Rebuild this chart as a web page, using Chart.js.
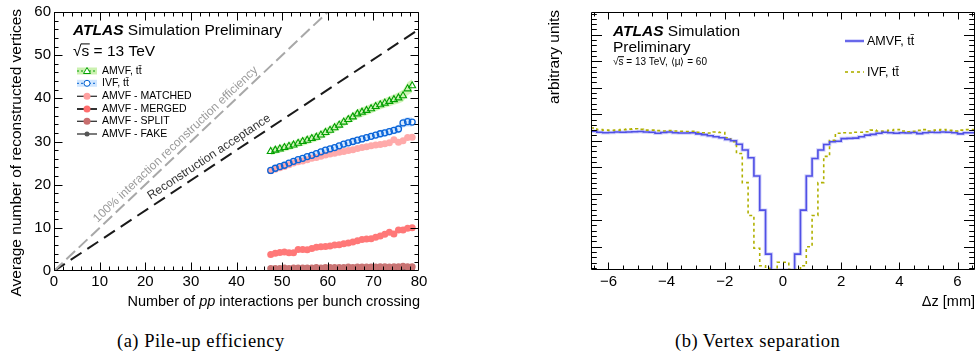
<!DOCTYPE html>
<html><head><meta charset="utf-8">
<script src="https://cdn.jsdelivr.net/npm/chart.js@4.4.1/dist/chart.umd.min.js"></script>
<style>
html,body{margin:0;padding:0;background:#fff}
body{width:977px;height:360px;position:relative;overflow:hidden}
#ca{position:absolute;left:0;top:0}
#cb{position:absolute;left:540px;top:0}
.cap{position:absolute;top:330px;line-height:22px;font-family:"Liberation Serif","DejaVu Serif",serif;font-size:18.5px;letter-spacing:0.5px;color:#000;white-space:nowrap}
</style></head>
<body>
<canvas id="ca" width="440" height="318"></canvas>
<canvas id="cb" width="437" height="318"></canvas>
<div class="cap" style="left:117px">(a) Pile-up efficiency</div>
<div class="cap" style="left:675px">(b) Vertex separation</div>
<script>
// ---------- Panel (a) data ----------
const mu = [47.5,48.5,49.5,50.5,51.5,52.5,53.5,54.5,55.5,56.5,57.5,58.5,59.5,60.5,61.5,62.5,63.5,64.5,65.5,66.5,67.5,68.5,69.5,70.5,71.5,72.5,73.5,74.5,75.5,76.5,77.5,78.5];
const amvfTT = [27.7,28.0,28.3,28.6,28.9,29.2,29.6,30.0,30.3,30.7,31.0,31.5,32.1,32.6,33.2,33.8,34.5,35.1,35.7,36.4,36.8,37.2,37.6,38.1,38.5,38.9,39.3,39.7,40.1,40.6,42.2,42.9];
const amvfTTErr = [0.9,0.9,0.9,0.9,0.9,0.9,0.9,1.0,1.0,1.0,1.0,1.0,1.0,1.0,1.0,1.0,1.0,1.0,1.0,1.1,1.1,1.1,1.1,1.1,1.1,1.1,1.2,1.2,1.3,1.4,1.5,1.5];
const ivfTT = [23.3,23.8,24.2,24.5,25.0,25.4,25.8,26.1,26.5,26.8,27.2,27.6,28.0,28.3,28.6,29.0,29.4,29.7,30.0,30.3,30.6,30.9,31.2,31.5,31.8,32.0,32.3,32.6,32.9,34.3,34.6,34.5];
const ivfTTErr = [0.6,0.6,0.6,0.6,0.6,0.6,0.6,0.6,0.7,0.7,0.7,0.7,0.7,0.7,0.7,0.7,0.7,0.7,0.8,0.8,0.8,0.8,0.8,0.8,0.9,0.9,0.9,0.9,1.0,1.1,1.1,1.1];
const matched = [23.2,23.6,23.9,24.2,24.6,25.0,25.3,25.5,25.8,26.1,26.3,26.6,26.9,27.1,27.3,27.5,27.7,27.9,28.1,28.4,28.6,28.8,29.0,29.2,29.3,29.5,29.7,30.4,29.8,30.2,30.9,31.0];
const merged = [3.8,4.1,4.3,4.4,4.2,4.2,5.0,5.0,4.9,5.2,5.5,5.6,5.7,5.8,6.0,6.1,6.3,6.5,6.7,7.0,7.3,7.4,7.5,7.8,8.1,8.5,9.0,8.6,9.5,9.5,9.9,10.0];
const split = [0.6,0.6,0.6,0.7,0.6,0.7,0.7,0.7,0.7,0.7,0.8,0.7,0.8,0.8,0.8,0.8,0.8,0.9,0.8,0.9,0.9,0.9,0.9,0.9,1.0,1.0,0.9,1.0,1.0,1.1,1.0,1.0];
const fake = [0.3,0.3,0.3,0.3,0.3,0.3,0.3,0.3,0.3,0.3,0.3,0.3,0.3,0.3,0.3,0.3,0.3,0.3,0.3,0.3,0.3,0.3,0.3,0.3,0.3,0.3,0.3,0.3,0.3,0.3,0.3,0.3];
const effLineX = [0,60], effLineY = [0,60];
const accLineX = [0,80], accLineY = [0,56];
const xTicksA = [0,10,20,30,40,50,60,70,80];
const yTicksA = [0,10,20,30,40,50,60];

// ---------- Panel (b) data ----------
const dzEdges = Array.from({length:67},(_,i)=>+(-6.6+0.2*i).toFixed(1));
const amvfDz = [5.24,5.20,5.18,5.19,5.21,5.20,5.21,5.22,5.23,5.21,
 5.20,5.16,5.19,5.21,5.18,5.17,5.17,5.18,5.14,5.11,
 5.07,5.03,4.99,4.93,4.88,4.75,4.53,4.24,3.55,2.26,
 0.60,0,0,0,0,0.60,2.26,3.55,4.21,4.53,
 4.74,4.84,4.86,4.96,4.97,4.98,5.03,5.09,5.12,5.16,
 5.20,5.18,5.16,5.18,5.17,5.19,5.15,5.18,5.20,5.19,
 5.21,5.20,5.18,5.14,5.18,5.18];
const ivfDz = [5.36,5.30,5.28,5.27,5.28,5.30,5.32,5.33,5.31,5.28,
 5.28,5.26,5.25,5.26,5.25,5.24,5.23,5.24,5.20,5.18,
 5.17,5.21,5.19,4.99,4.84,4.40,3.30,2.06,0.82,0.16,
 0.06,0,0.29,0.29,0.02,0.02,0.16,0.88,2.06,3.30,
 4.29,4.90,5.16,5.18,5.17,5.20,5.20,5.22,5.28,5.25,
 5.24,5.27,5.30,5.25,5.22,5.24,5.27,5.30,5.25,5.28,
 5.30,5.27,5.25,5.28,5.30,5.30];
const xTicksB = [-6,-4,-2,0,2,4,6];
const yTicksB = [0.88,1.88,2.88,3.88,4.88,5.88,6.88,7.88,8.88];

// ---------- helpers ----------
const SANS = '"Liberation Sans", Arial, sans-serif';
const pts = (xs, ys) => xs.map((x,i)=>({x, y: ys[i]}));
const band = (ys, es, s) => mu.map((x,i)=>({x, y: ys[i] + s*es[i]}));
const histPts = (vals) => { const p = vals.map((v,i)=>({x: dzEdges[i], y: v})); p.push({x: dzEdges[dzEdges.length-1], y: vals[vals.length-1]}); return p; };
const range = (a,b,s) => { const r=[]; for(let v=a; v<=b+1e-9; v+=s) r.push(+v.toFixed(3)); return r; };
const fmtMinus = v => v < 0 ? '\u2212' + Math.abs(v) : String(v);

function frameTicks(chart, o){
  const {ctx, chartArea:a, scales:{x,y}} = chart;
  ctx.save();
  ctx.strokeStyle = '#000'; ctx.lineWidth = 1;
  const L = Math.round(a.left)+0.5, R = Math.round(a.right)-0.5, T = Math.round(a.top)+0.5, B = Math.round(a.bottom)-0.5;
  ctx.beginPath();
  ctx.rect(L, T, R-L, B-T);
  const xt = (vals, len) => vals.forEach(v=>{const p=Math.round(x.getPixelForValue(v))+0.5; if(p<L||p>R) return; ctx.moveTo(p,B); ctx.lineTo(p,B-len); ctx.moveTo(p,T); ctx.lineTo(p,T+len);});
  const yt = (vals, len) => vals.forEach(v=>{const p=Math.round(y.getPixelForValue(v))+0.5; if(p<T||p>B) return; ctx.moveTo(L,p); ctx.lineTo(L+len,p); ctx.moveTo(R,p); ctx.lineTo(R-len,p);});
  xt(o.xMajor, o.xL); xt(o.xMinor, o.xl); yt(o.yMajor, o.yL); yt(o.yMinor, o.yl);
  ctx.stroke();
  ctx.restore();
}
function txt(ctx, s, x, y, size, opts={}){
  ctx.font = (opts.style||'') + ' ' + size + 'px ' + SANS;
  ctx.fillStyle = opts.color || '#000';
  ctx.textAlign = opts.align || 'left';
  ctx.textBaseline = opts.base || 'alphabetic';
  ctx.fillText(s, x, y);
  return ctx.measureText(s).width;
}
function sqrtS(ctx, x, y, size, rest){
  let w = txt(ctx, '\u221A', x, y, size);
  const ws = txt(ctx, 's', x + w, y, size);
  ctx.save(); ctx.strokeStyle='#000'; ctx.lineWidth=1;
  ctx.beginPath(); ctx.moveTo(x + w - 0.5, y - size*0.78); ctx.lineTo(x + w + ws + 0.5, y - size*0.78); ctx.stroke(); ctx.restore();
  txt(ctx, rest, x + w + ws, y, size);
}
function atlas(ctx, x, y, size, rest){
  const w = txt(ctx, 'ATLAS', x, y, size, {style:'italic bold'});
  txt(ctx, rest, x + w, y, size);
}
function alongText(chart, s, lx, ly, v, off, size, color){
  const {ctx, scales:{x,y}} = chart;
  const x0 = x.getPixelForValue(lx[0]), y0 = y.getPixelForValue(ly[0]);
  const x1 = x.getPixelForValue(lx[1]), y1 = y.getPixelForValue(ly[1]);
  const ang = Math.atan2(y1-y0, x1-x0);
  const t = (v - lx[0])/(lx[1]-lx[0]);
  const px = x0 + t*(x1-x0), py = y0 + t*(y1-y0);
  const nx = Math.sin(ang), ny = -Math.cos(ang);
  ctx.save();
  ctx.translate(px + nx*off, py + ny*off);
  ctx.rotate(ang);
  txt(ctx, s, 0, 0, size, {color});
  ctx.restore();
}

// ---------- Panel (a) ----------
const deco_a = {
  id:'decoA',
  afterDraw(chart){
    const ctx = chart.ctx;
    frameTicks(chart, {xMajor:xTicksA, xMinor:range(0,80,2), xL:8, xl:4, yMajor:yTicksA, yMinor:range(0,60,2), yL:8, yl:4});
    atlas(ctx, 73, 35, 15.5, ' Simulation Preliminary');
    sqrtS(ctx, 73, 56, 15.5, ' = 13 TeV');
    // legend
    const lx0 = 77, lx1 = 97, lc = 87, tx = 102;
    const rows = [71, 83.3, 96.3, 109, 121.3, 134];
    ctx.save();
    ctx.fillStyle = 'rgba(140,225,80,0.45)'; ctx.fillRect(lx0, rows[0]-3.5, lx1-lx0, 7);
    ctx.strokeStyle = '#00a000'; ctx.lineWidth = 1; ctx.setLineDash([2,2]);
    ctx.beginPath(); ctx.moveTo(lx0, rows[0]); ctx.lineTo(lx1, rows[0]); ctx.stroke();
    ctx.setLineDash([]);
    ctx.fillStyle='#fff'; ctx.beginPath(); ctx.moveTo(lc, rows[0]-3.5); ctx.lineTo(lc+3.5, rows[0]+2.5); ctx.lineTo(lc-3.5, rows[0]+2.5); ctx.closePath(); ctx.fill(); ctx.stroke();
    ctx.fillStyle = 'rgba(170,210,255,0.55)'; ctx.fillRect(lx0, rows[1]-3.5, lx1-lx0, 7);
    ctx.strokeStyle = '#0060d0'; ctx.setLineDash([2,2]);
    ctx.beginPath(); ctx.moveTo(lx0, rows[1]); ctx.lineTo(lx1, rows[1]); ctx.stroke();
    ctx.setLineDash([]);
    ctx.fillStyle='#fff'; ctx.beginPath(); ctx.arc(lc, rows[1], 3, 0, Math.PI*2); ctx.fill(); ctx.stroke();
    const dots = ['rgba(255,160,160,1)','rgba(255,110,110,1)','rgba(200,110,110,1)','#555'];
    for(let k=0;k<4;k++){
      const yy = rows[k+2];
      ctx.strokeStyle = '#333'; ctx.lineWidth = k===1 ? 2 : 1.3;
      ctx.beginPath(); ctx.moveTo(lx0, yy); ctx.lineTo(lx1, yy); ctx.stroke();
      ctx.fillStyle = dots[k]; ctx.beginPath(); ctx.arc(lc, yy, k===3 ? 2.5 : 3.5, 0, Math.PI*2); ctx.fill();
    }
    ctx.restore();
    const labels = ['AMVF, tt\u0304','IVF, tt\u0304','AMVF - MATCHED','AMVF - MERGED','AMVF - SPLIT','AMVF - FAKE'];
    labels.forEach((s,i)=>txt(ctx, s, tx, rows[i], 10.5, {base:'middle'}));
    alongText(chart, '100% interaction reconstruction efficiency', effLineX, effLineY, 10.3, 5, 12, '#9a9a9a');
    alongText(chart, 'Reconstruction acceptance', accLineX, accLineY, 21.9, 6, 12, '#333');
    ctx.save(); ctx.translate(17, 9); ctx.rotate(-Math.PI/2);
    txt(ctx, 'Average number of reconstructed vertices', 0, 0, 15.5, {align:'right', base:'middle'});
    ctx.restore();
    const parts = [['Number of ',''],['pp','italic'],[' interactions per bunch crossing','']];
    let widths = parts.map(p=>{ctx.font = p[1]+' 14.5px '+SANS; return ctx.measureText(p[0]).width;});
    let xx = 420 - widths.reduce((a,b)=>a+b,0);
    parts.forEach((p,i)=>{ txt(ctx, p[0], xx, 306, 14.5, {style:p[1]}); xx += widths[i]; });
  }
};

new Chart(document.getElementById('ca'), {
  type:'scatter',
  data:{ datasets:[
    {data: band(amvfTT, amvfTTErr, -1), showLine:true, borderWidth:0, pointRadius:0, fill:false, order:10},
    {data: band(amvfTT, amvfTTErr, 1), showLine:true, borderWidth:0, pointRadius:0, fill:'-1', backgroundColor:'rgba(140,225,80,0.4)', order:10},
    {data: band(ivfTT, ivfTTErr, -1), showLine:true, borderWidth:0, pointRadius:0, fill:false, order:11},
    {data: band(ivfTT, ivfTTErr, 1), showLine:true, borderWidth:0, pointRadius:0, fill:'-1', backgroundColor:'rgba(170,210,255,0.5)', order:11},
    {data: pts(effLineX, effLineY), showLine:true, borderColor:'#a8a8a8', borderWidth:2, borderDash:[12,5], pointRadius:0, order:20},
    {data: pts(accLineX, accLineY), showLine:true, borderColor:'#1a1a1a', borderWidth:2, borderDash:[13,7], pointRadius:0, order:20},
    {data: pts(mu, fake), pointRadius:2.5, pointBackgroundColor:'#555', pointBorderWidth:0, order:7},
    {data: pts(mu, split), pointRadius:3.5, pointBackgroundColor:'rgba(200,115,115,1)', pointBorderWidth:0, order:6},
    {data: pts(mu, merged), pointRadius:3.5, pointBackgroundColor:'rgba(255,120,120,1)', pointBorderWidth:0, order:5},
    {data: pts(mu, matched), pointRadius:3.5, pointBackgroundColor:'rgba(255,170,170,1)', pointBorderWidth:0, order:4},
    {data: pts(mu, ivfTT), pointStyle:'circle', pointRadius:3, pointBackgroundColor:'rgba(0,0,0,0)', pointBorderColor:'#0a64d8', pointBorderWidth:1.3, order:2},
    {data: pts(mu, amvfTT), pointStyle:'triangle', pointRadius:4, pointBackgroundColor:'rgba(0,0,0,0)', pointBorderColor:'#00a000', pointBorderWidth:1.1, order:1}
  ]},
  options:{
    responsive:false, animation:false, devicePixelRatio:1,
    layout:{padding:{left:0, top:9, right:21, bottom:0}},
    plugins:{legend:{display:false}, tooltip:{enabled:false}},
    scales:{
      x:{type:'linear', min:0, max:80,
        afterBuildTicks:s=>{s.ticks = xTicksA.map(v=>({value:v}));},
        afterFit:s=>{s.height = 47;},
        grid:{display:false, drawTicks:false}, border:{display:false},
        ticks:{font:{family:SANS, size:15}, color:'#000', padding:2, maxRotation:0, autoSkip:false}},
      y:{type:'linear', min:0, max:60,
        afterBuildTicks:s=>{s.ticks = yTicksA.map(v=>({value:v}));},
        afterFit:s=>{s.width = 54;},
        grid:{display:false, drawTicks:false}, border:{display:false},
        ticks:{font:{family:SANS, size:15}, color:'#000', padding:3, autoSkip:false}}
    }
  },
  plugins:[deco_a]
});

// ---------- Panel (b) ----------
const deco_b = {
  id:'decoB',
  afterDraw(chart){
    const ctx = chart.ctx;
    frameTicks(chart, {xMajor:xTicksB, xMinor:range(-6.5,6.5,0.5), xL:7, xl:4, yMajor:yTicksB, yMinor:range(0.08,9.68,0.2), yL:10.5, yl:5.3});
    atlas(ctx, 73, 35.7, 15.5, ' Simulation');
    txt(ctx, 'Preliminary', 73, 52.3, 15.5);
    sqrtS(ctx, 73, 64.5, 10, ' = 13 TeV, \u27E8\u03BC\u27E9 = 60');
    ctx.save();
    ctx.strokeStyle='rgba(110,110,240,0.35)'; ctx.lineWidth=3.5;
    ctx.beginPath(); ctx.moveTo(305,41); ctx.lineTo(324,41); ctx.stroke();
    ctx.strokeStyle='#5050e6'; ctx.lineWidth=1.6;
    ctx.beginPath(); ctx.moveTo(305,41); ctx.lineTo(324,41); ctx.stroke();
    ctx.strokeStyle='#b0b000'; ctx.lineWidth=1.6; ctx.setLineDash([3,3]);
    ctx.beginPath(); ctx.moveTo(305,72); ctx.lineTo(324,72); ctx.stroke();
    ctx.restore();
    txt(ctx, 'AMVF, tt\u0304', 327, 41.5, 12.5, {base:'middle'});
    txt(ctx, 'IVF, tt\u0304', 327, 73, 12.5, {base:'middle'});
    ctx.save(); ctx.translate(15, 10); ctx.rotate(-Math.PI/2);
    txt(ctx, 'arbitrary units', 0, 0, 15.5, {align:'right', base:'middle'});
    ctx.restore();
    txt(ctx, '\u0394z [mm]', 435, 306, 14.5, {align:'right'});
  }
};

new Chart(document.getElementById('cb'), {
  type:'scatter',
  data:{ datasets:[
    {data: histPts(amvfDz), showLine:true, stepped:'before', borderColor:'#5050e6', borderWidth:1.6, pointRadius:0, order:1},
    {data: histPts(ivfDz), showLine:true, stepped:'before', borderColor:'#b0b000', borderWidth:1.6, borderDash:[3,3], pointRadius:0, order:2},
    {data: histPts(amvfDz), showLine:true, stepped:'before', borderColor:'rgba(110,110,240,0.3)', borderWidth:3.5, pointRadius:0, order:3}
  ]},
  options:{
    responsive:false, animation:false, devicePixelRatio:1,
    layout:{padding:{left:0, top:12, right:2, bottom:0}},
    plugins:{legend:{display:false}, tooltip:{enabled:false}},
    scales:{
      x:{type:'linear', min:-6.6, max:6.6,
        afterBuildTicks:s=>{s.ticks = xTicksB.map(v=>({value:v}));},
        afterFit:s=>{s.height = 48;},
        grid:{display:false, drawTicks:false}, border:{display:false},
        ticks:{font:{family:SANS, size:15}, color:'#000', padding:3, maxRotation:0, autoSkip:false, callback:fmtMinus}},
      y:{type:'linear', min:0, max:9.74,
        afterBuildTicks:s=>{s.ticks = yTicksB.map(v=>({value:v}));},
        afterFit:s=>{s.width = 51;},
        grid:{display:false, drawTicks:false}, border:{display:false},
        ticks:{display:false}}
    }
  },
  plugins:[deco_b]
});
</script>
</body></html>
